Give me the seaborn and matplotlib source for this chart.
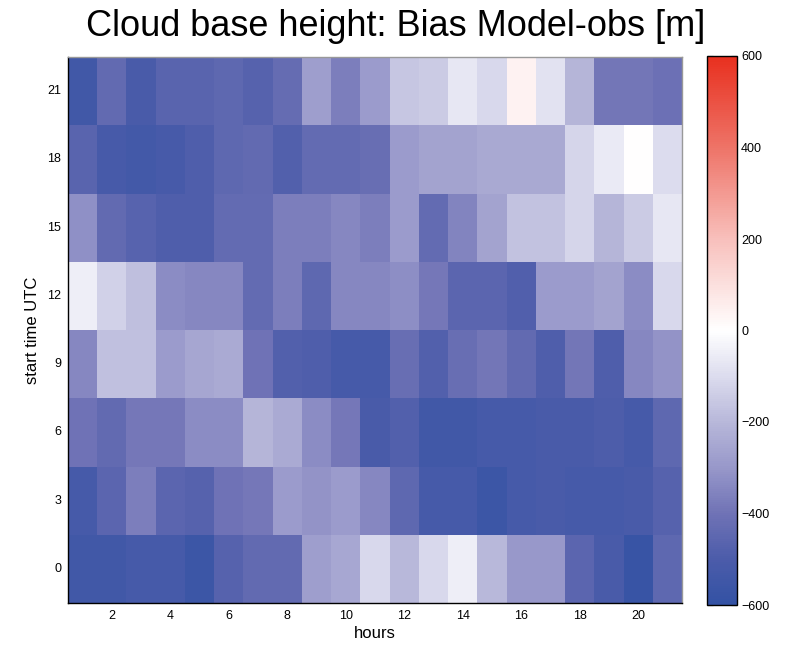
import numpy as np
import pandas as pd
import matplotlib
matplotlib.use("Agg")
import matplotlib.pyplot as plt
from matplotlib.colors import LinearSegmentedColormap
import seaborn as sns

# Forecast hour (columns) and model start time (rows)
hours = list(range(1, 22))
start_times = [0, 3, 6, 9, 12, 15, 18, 21]
xtick_hours = [2, 4, 6, 8, 10, 12, 14, 16, 18, 20]
cbar_ticks = [-600, -400, -200, 0, 200, 400, 600]

# Cloud base height bias (model - obs) in metres, one list per start time
bias_00 = [-540, -540, -525, -525, -560, -470, -440, -440, -280, -250, -110,
           -200, -110, -50, -200, -300, -300, -455, -510, -580, -450]
bias_03 = [-525, -455, -370, -455, -470, -400, -385, -290, -310, -290, -345,
           -450, -525, -525, -560, -525, -510, -525, -525, -510, -470]
bias_06 = [-400, -440, -385, -385, -330, -330, -210, -240, -330, -385, -510,
           -480, -540, -540, -525, -525, -510, -510, -495, -525, -450]
bias_09 = [-345, -175, -175, -290, -255, -240, -400, -480, -490, -525, -525,
           -420, -480, -420, -390, -440, -490, -390, -490, -345, -310]
bias_12 = [-50, -130, -180, -330, -345, -345, -435, -370, -450, -345, -345,
           -325, -385, -455, -455, -485, -290, -290, -265, -330, -110]
bias_15 = [-320, -440, -465, -490, -490, -435, -435, -370, -370, -345, -370,
           -290, -435, -355, -265, -170, -170, -120, -210, -150, -70]
bias_18 = [-460, -520, -530, -520, -490, -450, -440, -480, -435, -435, -420,
           -290, -265, -265, -245, -245, -245, -120, -60, 0, -100]
bias_21 = [-540, -440, -510, -460, -460, -450, -470, -430, -280, -370, -290,
           -160, -150, -70, -110, 40, -80, -210, -390, -390, -410]

rows = [bias_00, bias_03, bias_06, bias_09, bias_12, bias_15, bias_18, bias_21]
df = pd.DataFrame(rows, index=start_times, columns=hours).iloc[::-1]

# Diverging blue-white-red scale from -600 to 600 m
cmap = LinearSegmentedColormap.from_list(
    "bias",
    [(0.0, "#3352A4"), (1 / 12, "#4C5CAA"), (2 / 12, "#7073B6"),
     (3 / 12, "#9898CA"), (4 / 12, "#B8B8DA"), (5 / 12, "#DCDCEE"),
     (0.5, "#FFFFFF"), (4 / 6, "#F8C0BC"), (5 / 6, "#EE7468"),
     (1.0, "#E8301F")],
)

sns.set_theme(style="white")
plt.rcParams["font.family"] = ["Liberation Sans", "DejaVu Sans"]
plt.rcParams["text.color"] = "black"
plt.rcParams["axes.labelcolor"] = "black"
plt.rcParams["xtick.color"] = "black"
plt.rcParams["ytick.color"] = "black"

fig = plt.figure(figsize=(7.91, 6.49), dpi=100)
ax = fig.add_axes([68 / 791, 46 / 649, 614 / 791, 546 / 649])
cax = fig.add_axes([707 / 791, 44 / 649, 30 / 791, 549 / 649])

sns.heatmap(df, ax=ax, cmap=cmap, vmin=-600, vmax=600, cbar_ax=cax,
            cbar_kws={"ticks": cbar_ticks})

# Axis ticks at cell centres
ax.set_xticks([hours.index(h) + 0.5 for h in xtick_hours])
ax.set_xticklabels([str(h) for h in xtick_hours], rotation=0)
ylabels = list(df.index)
ax.set_yticks([ylabels.index(s) + 0.5 for s in ylabels])
ax.set_yticklabels([str(s) for s in ylabels], rotation=0)
ax.tick_params(axis="both", direction="in", length=4, width=0.8,
               labelsize=9, top=True, right=True, bottom=True, left=True,
               color="black", labelcolor="black", pad=5)

for name, sp in ax.spines.items():
    sp.set_visible(True)
    sp.set_linewidth(1.0)
    sp.set_color("black" if name in ("left", "bottom") else "#999999")

ax.set_xlabel("hours", fontsize=12, labelpad=3)
ax.set_ylabel("start time UTC", fontsize=12, labelpad=5)

# Colorbar styling
cbar = ax.collections[0].colorbar
cbar.outline.set_linewidth(1.0)
cbar.outline.set_edgecolor("black")
cax.tick_params(direction="in", length=4, width=0.8, labelsize=9,
                left=True, right=True, color="black", labelcolor="black",
                pad=3)
cax.set_yticklabels(["\u2212600", "\u2212400", "\u2212200", "0", "200",
                     "400", "600"])

fig.text(0.5, 1 - 27 / 649, "Cloud base height: Bias Model-obs [m]",
         ha="center", va="center", fontsize=26, color="black")

fig.savefig("out.png", dpi=100)
